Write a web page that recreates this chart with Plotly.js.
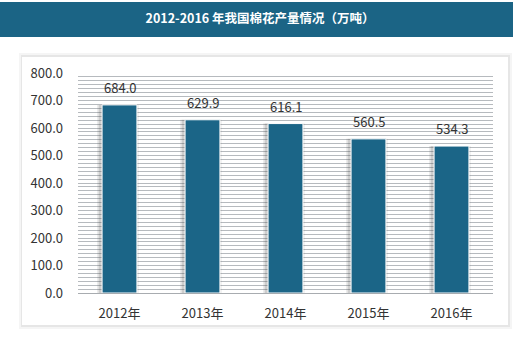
<!DOCTYPE html>
<html><head><meta charset="utf-8">
<script src="https://cdn.plot.ly/plotly-3.0.1.min.js"></script>
<style>html,body{margin:0;padding:0;background:#fff}#c{width:520px;height:341px}</style>
</head><body><div id="c"></div>
<script>
const categories = ['2012年','2013年','2014年','2015年','2016年'];
const production = [684.0, 629.9, 616.1, 560.5, 534.3];
const titleText = '2012-2016 年我国棉花产量情况（万吨）';

const font = '"Noto Sans CJK SC", "Noto Sans", sans-serif';
const shadow1 = {
  type:'bar', x:categories, y:production, width:0.5, offset:-0.27,
  marker:{color:'rgba(80,80,80,0.12)'}, hoverinfo:'skip', showlegend:false
};
const shadow2 = {
  type:'bar', x:categories, y:production, width:0.46, offset:-0.25,
  marker:{color:'rgba(80,80,80,0.18)'}, hoverinfo:'skip', showlegend:false
};
const bars = {
  type:'bar', x:categories, y:production, width:0.42,
  marker:{color:'#1b6587', line:{color:'#ffffff', width:1}},
  hoverinfo:'skip', showlegend:false
};
const labels = categories.map((c,i)=>({
  x:c, y:production[i], xref:'x', yref:'y', text:production[i].toFixed(1),
  showarrow:false, yanchor:'bottom', yshift:6,
  font:{family:font, size:13, color:'#333'}
}));
const layout = {
  width:520, height:341,
  margin:{l:78, r:27, t:73, b:48},
  paper_bgcolor:'#ffffff', plot_bgcolor:'#e4e9ee',
  barmode:'overlay',
  title:{text:'<b>'+titleText+'</b>', font:{family:font, size:12.5, color:'#ffffff'},
         x:0.5, xanchor:'center', y:1-19/341, yanchor:'middle', yref:'container'},
  xaxis:{showgrid:false, showline:true, linecolor:'#a8acb0', linewidth:1, ticks:'',
         ticklabelstandoff:8,
         tickfont:{family:font, size:13, color:'#333'}, fixedrange:true},
  yaxis:{range:[0,800], dtick:100, tickformat:'.1f', showgrid:true, gridcolor:'#b6babe',
         zeroline:false, ticks:'', ticklabelstandoff:14,
         minor:{dtick:100/7, showgrid:true, gridcolor:'#b6babe', gridwidth:1},
         tickfont:{family:font, size:13, color:'#333'}, fixedrange:true},
  annotations: labels,
  shapes:[
    {type:'rect', xref:'paper', yref:'paper', layer:'below',
     x0:-78/415, x1:(513-78)/415, y0:(293-37)/220, y1:(293-2)/220,
     line:{width:0}, fillcolor:'#1b6485'},
    {type:'rect', xref:'paper', yref:'paper', layer:'below',
     x0:(19-78)/415, x1:(512-78)/415, y0:(293-329)/220, y1:(293-53)/220,
     line:{width:0}, fillcolor:'rgba(0,0,0,0.04)'},
    {type:'rect', xref:'paper', yref:'paper', layer:'below',
     x0:(21-78)/415, x1:(510-78)/415, y0:(293-327)/220, y1:(293-55)/220,
     line:{width:0}, fillcolor:'rgba(0,0,0,0.06)'},
    {type:'rect', xref:'paper', yref:'paper', layer:'below',
     x0:(22-78)/415, x1:(508-78)/415, y0:(293-325)/220, y1:(293-57)/220,
     line:{width:0}, fillcolor:'#ffffff'}
  ]
};
Plotly.newPlot('c', [shadow1, shadow2, bars], layout, {displayModeBar:false, staticPlot:true});
</script></body></html>
